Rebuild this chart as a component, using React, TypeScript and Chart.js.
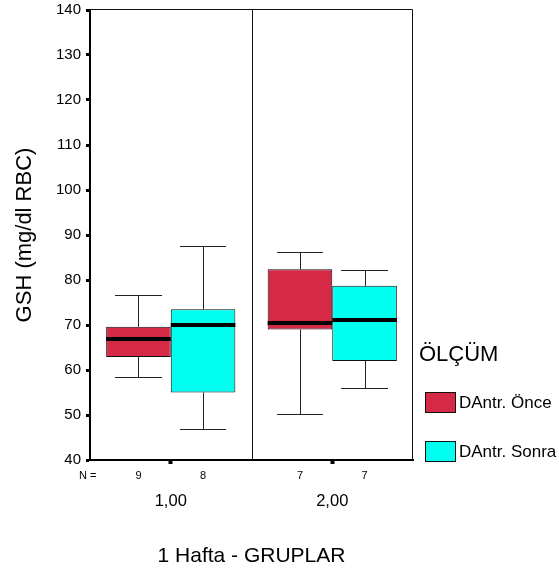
import React, { useEffect, useRef } from "react";
import { Chart, registerables } from "chart.js";

Chart.register(...registerables);

// ---- Data ----
const categories = ["1,00", "2,00"];
const seriesLabels = ["DAntr. Önce", "DAntr. Sonra"];

const onceMin = [58.4, 50.2];
const onceQ1 = [62.9, 69.0];
const onceMedian = [66.8, 70.4];
const onceQ3 = [69.6, 82.4];
const onceMax = [76.6, 86.3];
const onceN = [9, 7];

const sonraMin = [46.9, 56.0];
const sonraQ1 = [55.0, 62.0];
const sonraMedian = [70.0, 71.1];
const sonraQ3 = [73.5, 78.7];
const sonraMax = [87.5, 82.2];
const sonraN = [8, 7];

const yMin = 40;
const yMax = 140;
const yStep = 10;

const yTitle = "GSH (mg/dl RBC)";
const xTitle = "1 Hafta - GRUPLAR";
const legendTitle = "ÖLÇÜM";
const nLabel = "N =";

// ---- Styles ----
const FONT = "'Liberation Sans', Arial, Helvetica, sans-serif";
const RED = "#D62946";
const CYAN = "#00FFEF";
const INK = "#111111";

const boxExtras = {
  id: "boxExtras",
  afterDatasetsDraw(chart: any) {
    const ctx = chart.ctx;
    const ys = chart.scales.y;
    chart.data.datasets.forEach((ds: any, di: number) => {
      const meta = chart.getDatasetMeta(di);
      meta.data.forEach((bar: any, i: number) => {
        const { x, width } = bar.getProps(["x", "width"], true);
        const half = width / 2;
        const cap = width * 0.36;
        const pMin = ys.getPixelForValue(ds.whiskerMin[i]);
        const pMax = ys.getPixelForValue(ds.whiskerMax[i]);
        const pQ1 = ys.getPixelForValue(ds.data[i][0]);
        const pQ3 = ys.getPixelForValue(ds.data[i][1]);
        const pMed = ys.getPixelForValue(ds.median[i]);
        const cx = Math.round(x) + 0.5;
        ctx.save();
        ctx.strokeStyle = "#222";
        ctx.lineWidth = 1;
        ctx.beginPath();
        ctx.moveTo(cx, pQ3);
        ctx.lineTo(cx, Math.round(pMax) + 0.5);
        ctx.moveTo(cx, pQ1);
        ctx.lineTo(cx, Math.round(pMin) + 0.5);
        ctx.moveTo(Math.round(x - cap), Math.round(pMax) + 0.5);
        ctx.lineTo(Math.round(x + cap), Math.round(pMax) + 0.5);
        ctx.moveTo(Math.round(x - cap), Math.round(pMin) + 0.5);
        ctx.lineTo(Math.round(x + cap), Math.round(pMin) + 0.5);
        ctx.stroke();
        // median
        ctx.strokeStyle = "#000";
        ctx.lineWidth = 4;
        ctx.beginPath();
        ctx.moveTo(x - half, Math.round(pMed));
        ctx.lineTo(x + half, Math.round(pMed));
        ctx.stroke();
        ctx.restore();
      });
    });
  },
  afterDraw(chart: any) {
    const ctx = chart.ctx;
    const area = chart.chartArea;
    const xs = chart.scales.x;
    ctx.save();
    // frame: top and right
    ctx.strokeStyle = INK;
    ctx.lineWidth = 1;
    ctx.beginPath();
    ctx.moveTo(area.left, Math.round(area.top) - 0.5);
    ctx.lineTo(Math.round(area.right) - 0.5, Math.round(area.top) - 0.5);
    ctx.lineTo(Math.round(area.right) - 0.5, area.bottom);
    ctx.stroke();
    // divider between groups
    const mid = (xs.getPixelForValue(0) + xs.getPixelForValue(1)) / 2;
    ctx.beginPath();
    ctx.moveTo(Math.round(mid) + 0.5, area.top);
    ctx.lineTo(Math.round(mid) + 0.5, area.bottom);
    ctx.stroke();

    // N row
    ctx.fillStyle = "#000";
    ctx.font = `11px ${FONT}`;
    ctx.textBaseline = "middle";
    ctx.textAlign = "left";
    ctx.fillText(nLabel, 79, 476);
    ctx.textAlign = "center";
    chart.data.datasets.forEach((ds: any, di: number) => {
      const meta = chart.getDatasetMeta(di);
      meta.data.forEach((bar: any, i: number) => {
        ctx.fillText(String(ds.counts[i]), bar.x, 476);
      });
    });

    // legend
    ctx.textAlign = "left";
    ctx.font = `22px ${FONT}`;
    ctx.fillText(legendTitle, 419, 355);
    const rows = [402, 451];
    chart.data.datasets.forEach((ds: any, di: number) => {
      const cy = rows[di];
      ctx.fillStyle = ds.backgroundColor;
      ctx.fillRect(425, cy - 10, 30, 20);
      ctx.strokeStyle = INK;
      ctx.lineWidth = 1;
      ctx.strokeRect(425.5, cy - 9.5, 30, 20);
      ctx.fillStyle = "#000";
      ctx.font = `17px ${FONT}`;
      ctx.fillText(ds.label, 459, cy + 1);
    });
    ctx.restore();
  },
};

export default function App() {
  const ref = useRef<HTMLCanvasElement | null>(null);

  useEffect(() => {
    if (!ref.current) return;
    const chart = new Chart(ref.current, {
      type: "bar",
      data: {
        labels: categories,
        datasets: [
          {
            label: seriesLabels[0],
            data: onceQ1.map((q, i) => [q, onceQ3[i]]),
            backgroundColor: RED,
            borderColor: INK,
            borderWidth: 1,
            borderSkipped: false,
            categoryPercentage: 0.8,
            barPercentage: 1.0,
            whiskerMin: onceMin,
            whiskerMax: onceMax,
            median: onceMedian,
            counts: onceN,
          } as any,
          {
            label: seriesLabels[1],
            data: sonraQ1.map((q, i) => [q, sonraQ3[i]]),
            backgroundColor: CYAN,
            borderColor: INK,
            borderWidth: 1,
            borderSkipped: false,
            categoryPercentage: 0.8,
            barPercentage: 1.0,
            whiskerMin: sonraMin,
            whiskerMax: sonraMax,
            median: sonraMedian,
            counts: sonraN,
          } as any,
        ],
      },
      options: {
        responsive: false,
        animation: false,
        devicePixelRatio: 1,
        layout: { padding: { left: 0, top: 10, right: 146, bottom: 0 } },
        plugins: {
          legend: { display: false },
          tooltip: { enabled: false },
        },
        scales: {
          x: {
            type: "category",
            offset: true,
            grid: {
              display: true,
              offset: false,
              drawOnChartArea: false,
              drawTicks: true,
              tickLength: 4,
              tickWidth: 4,
              tickColor: "#000",
            },
            border: { display: true, color: "#000", width: 2 },
            ticks: {
              color: "#000",
              font: { family: FONT, size: 16.5 },
              padding: 28,
              maxRotation: 0,
              autoSkip: false,
            },
            title: {
              display: true,
              text: xTitle,
              color: "#000",
              font: { family: FONT, size: 21 },
              padding: { top: 0, bottom: 2 },
            },
            afterFit(scale: any) {
              scale.height = 111;
              scale.paddingLeft = 0;
              scale.paddingRight = 0;
            },
          },
          y: {
            type: "linear",
            min: yMin,
            max: yMax,
            grid: {
              display: true,
              drawOnChartArea: false,
              drawTicks: true,
              tickLength: 4,
              tickWidth: 3,
              tickColor: "#000",
            },
            border: { display: true, color: "#000", width: 2 },
            ticks: {
              stepSize: yStep,
              color: "#000",
              font: { family: FONT, size: 15 },
              padding: 5,
            },
            title: {
              display: true,
              text: yTitle,
              color: "#000",
              font: { family: FONT, size: 22 },
              padding: { top: 12, bottom: 0 },
            },
            afterFit(scale: any) {
              scale.width = 90;
              scale.paddingTop = 0;
              scale.paddingBottom = 0;
            },
          },
        },
      },
      plugins: [boxExtras],
    });
    return () => chart.destroy();
  }, []);

  return (
    <div style={{ position: "absolute", left: 0, top: 0, width: 559, height: 571, background: "#fff" }}>
      <canvas ref={ref} width={559} height={571} style={{ display: "block" }} />
    </div>
  );
}
